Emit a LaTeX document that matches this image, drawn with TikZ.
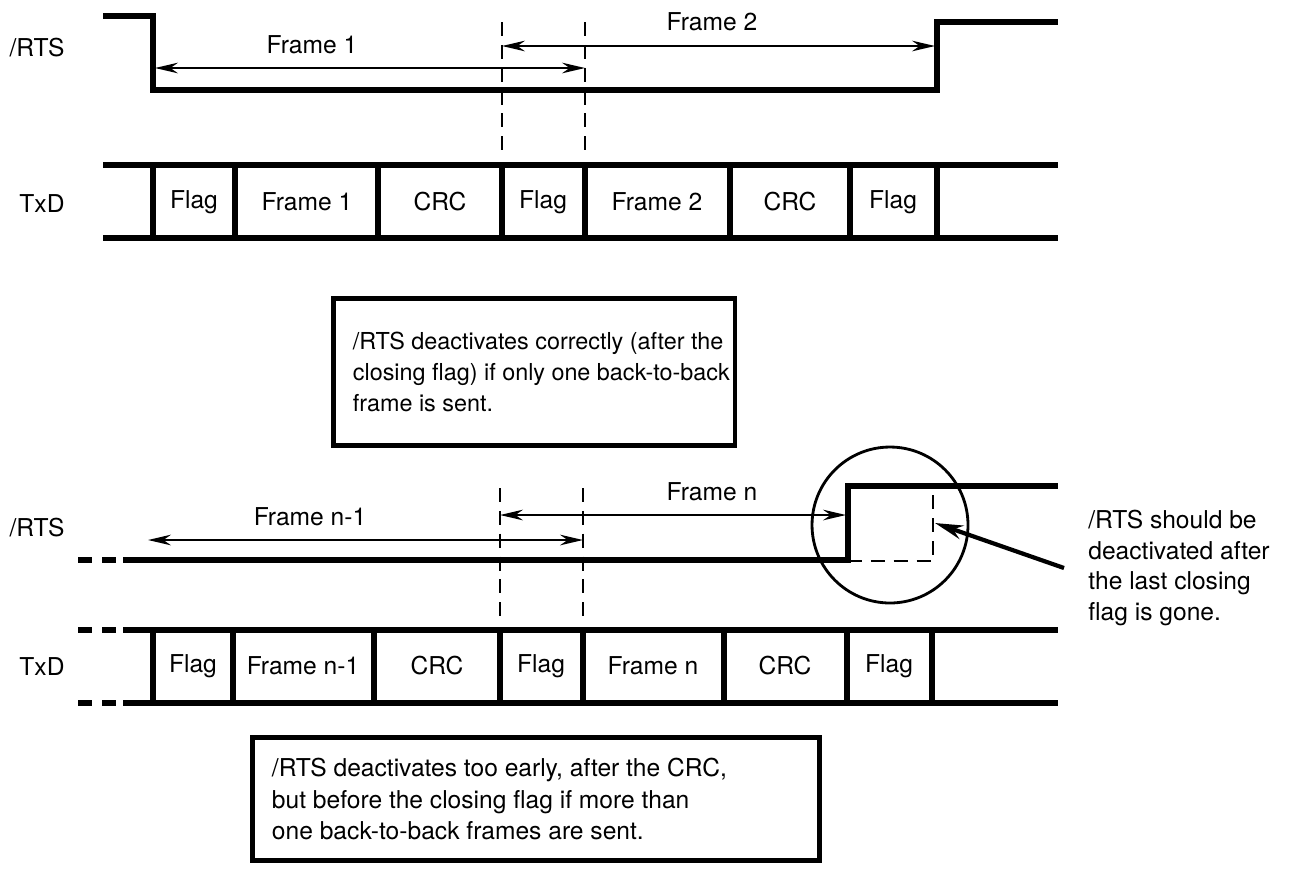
\documentclass[tikz,border=0pt]{standalone}
\usepackage{fontspec}
\setmainfont{TeX Gyre Heros}
\usetikzlibrary{arrows.meta}

\tikzset{
  sig/.style={line width=3.4pt},
  sep/.style={line width=3pt},
  lead/.style={line width=3.4pt, dash pattern=on 8pt off 5.7pt},
  guide/.style={line width=1.6pt, dash pattern=on 8pt off 5pt},
  span/.style={line width=1.5pt, {Stealth[length=13pt,width=6pt]}-{Stealth[length=13pt,width=6pt]}},
  lbl/.style={inner sep=0pt, font=\fontsize{14}{17.6}\selectfont},
  notebox/.style={draw, line width=2.8pt},
  notetext/.style={inner sep=0pt, anchor=west, align=left, font=\fontsize{13.3}{17.8}\selectfont}
}

\begin{document}
\begin{tikzpicture}[x=0.02cm, y=-0.02cm]
  \useasboundingbox (0,0) rectangle (1293,870);

  % one frame: /RTS goes up after the closing flag
  \node[lbl] (rtsA) at (37,48) {/RTS};
  \node[lbl] (txdA) at (42,204) {TxD};
  \draw[sig] (103,16) -- (153,16) -- (153,90) -- (937,90) -- (937,22) -- (1058,22);
  \draw[sig] (103,165) -- (1058,165);
  \draw[sig] (103,238) -- (1058,238);
  \foreach \x in {153,235,378,502,585,730,850,937}
    \draw[sep] (\x,165) -- (\x,238);
  \node[lbl] (flagA1) at (194,202) {Flag};
  \node[lbl] (bodyA1) at (307,202) {Frame 1};
  \node[lbl] (crcA1) at (440,202) {CRC};
  \node[lbl] (flagA2) at (543,202) {Flag};
  \node[lbl] (bodyA2) at (657,202) {Frame 2};
  \node[lbl] (crcA2) at (790,202) {CRC};
  \node[lbl] (flagA3) at (893,202) {Flag};
  \draw[guide] (502,22) -- (502,155);
  \draw[guide] (585,22) -- (585,155);
  \coordinate (spA1l) at (155,68);
  \coordinate (spA1r) at (585,68);
  \coordinate (spA2l) at (502,46);
  \coordinate (spA2r) at (935,46);
  \draw[span] (spA1l) -- (spA1r);
  \draw[span] (spA2l) -- (spA2r);
  \node[lbl] (capA1) at (312,45) {Frame 1};
  \node[lbl] (capA2) at (712,22) {Frame 2};
  \node[notebox, minimum width=8.04cm, minimum height=2.94cm] (noteA) at (534,372) {};
  \node[notetext] (noteAtxt) at ([xshift=0.44cm]noteA.west)
    {/RTS deactivates correctly (after the\\closing flag) if only one back-to-back\\frame is sent.};

  % back-to-back frames: /RTS goes up too early
  \node[lbl] (rtsB) at (37,528) {/RTS};
  \node[lbl] (txdB) at (42,667) {TxD};
  \draw[lead] (78,560) -- (116,560);
  \draw[sig] (123,560) -- (848,560) -- (848,486) -- (1058,486);
  \draw[guide] (848,561) -- (933,561) -- (933,486);
  \draw[lead] (78,630) -- (116,630);
  \draw[lead] (78,703) -- (116,703);
  \draw[sig] (123,630) -- (1058,630);
  \draw[sig] (123,703) -- (1058,703);
  \foreach \x in {153,233,374,500,583,724,847,932}
    \draw[sep] (\x,630) -- (\x,703);
  \node[lbl] (flagB1) at (193,666) {Flag};
  \node[lbl] (bodyB1) at (303,666) {Frame n-1};
  \node[lbl] (crcB1) at (437,666) {CRC};
  \node[lbl] (flagB2) at (541,666) {Flag};
  \node[lbl] (bodyB2) at (653,666) {Frame n};
  \node[lbl] (crcB2) at (785,666) {CRC};
  \node[lbl] (flagB3) at (889,666) {Flag};
  \draw[guide] (500,488) -- (500,620);
  \draw[guide] (583,488) -- (583,620);
  \coordinate (spB1l) at (148,540);
  \coordinate (spB1r) at (583,540);
  \coordinate (spB2l) at (500,515);
  \coordinate (spB2r) at (846,515);
  \draw[span] (spB1l) -- (spB1r);
  \draw[span] (spB2l) -- (spB2r);
  \node[lbl] (capB1) at (310,517) {Frame n-1};
  \node[lbl] (capB2) at (712,492) {Frame n};
  \node[draw, circle, line width=1.6pt, minimum size=3.12cm] (lens) at (890,525) {};
  \node[lbl, anchor=west, align=left] (hint) at (1088,568)
    {/RTS should be\\deactivated after\\the last closing\\flag is gone.};
  \coordinate (tipB) at (935,523);
  \coordinate (tailB) at (1064,568);
  \draw[line width=2.4pt, -{Stealth[length=16pt,width=8pt]}] (tailB) -- (tipB);
  \node[notebox, minimum width=11.36cm, minimum height=2.46cm] (noteB) at (536,799) {};
  \node[notetext, font=\fontsize{14}{17.8}\selectfont] (noteBtxt) at ([xshift=0.44cm]noteB.west)
    {/RTS deactivates too early, after the CRC,\\but before the closing flag if more than\\one back-to-back frames are sent.};
\end{tikzpicture}
\end{document}
